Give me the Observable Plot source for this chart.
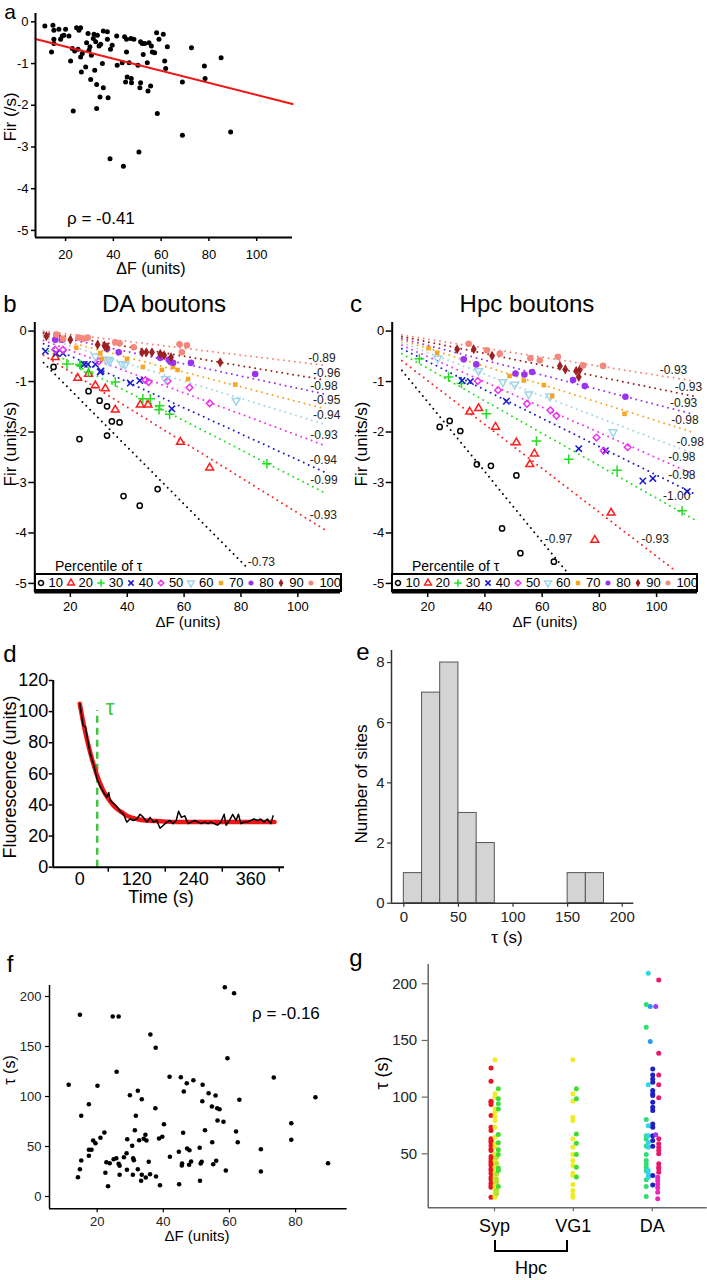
<!DOCTYPE html>
<html><head><meta charset="utf-8">
<script src="https://cdn.jsdelivr.net/npm/d3@7"></script>
<script src="https://cdn.jsdelivr.net/npm/@observablehq/plot@0.6"></script>
<style>
body{margin:0;background:#fff;}
#root{position:relative;width:707px;height:1280px;overflow:hidden;background:#fff;font-family:"Liberation Sans",Arial,sans-serif;}
.t{position:absolute;white-space:nowrap;line-height:1;}
</style></head><body><div id="root"></div>
<script>
// ---------------- DATA ----------------
// Panel a: ΔF (units) vs Fir (/s)
const aPoints = [[11.3,-0.1],[14.1,-0.72],[14.7,-0.08],[15.1,-0.2],[15.1,-0.42],[15.1,-0.52],[17.2,-0.18],[17.9,-0.42],[18.6,-0.34],[20,-0.18],[19.3,-0.32],[21.4,-0.34],[22.1,-0.94],[23.2,-2.14],[22.8,-0.64],[23.8,-0.7],[24.6,-0.14],[25.6,-0.2],[26.3,-0.14],[25.2,-0.66],[26.3,-0.84],[26.6,-1.2],[27,-0.76],[28.4,-1.08],[28.8,-0.5],[29.4,-0.28],[29.8,-0.68],[30.2,-0.6],[30.5,-1.38],[30.8,-0.8],[31.6,-0.4],[31.9,-0.3],[32.2,-1.16],[32.6,-0.48],[33,-1.5],[33,-2.08],[33.3,-0.32],[34,-0.58],[34.4,-1.8],[34.7,-0.54],[35.4,-1.0],[35.8,-1.58],[35.8,-0.22],[37.5,-0.24],[37.5,-0.42],[37.8,-1.82],[38.6,-3.28],[38.8,-0.66],[39.5,-0.56],[41.4,-0.34],[41.6,-1.04],[43.7,-0.98],[44.2,-3.46],[44.7,-0.36],[45.5,-0.42],[45.5,-0.72],[45.1,-1.44],[45.8,-1.32],[46.6,-0.98],[47.3,-0.4],[47.5,-1.36],[47.6,-1.46],[48.6,-0.42],[50.3,-1.04],[50.7,-3.12],[51.1,-1.58],[51.4,-0.48],[51.4,-1.46],[52.1,-0.52],[52.5,-0.78],[53.1,-0.52],[54.2,-0.98],[54.5,-1.66],[54.9,-0.5],[55.6,-1.54],[55.9,-0.58],[56.3,-0.72],[57.3,-0.74],[58.1,-0.26],[58.4,-2.2],[59.1,-0.42],[60.9,-0.3],[61.5,-0.94],[61.9,-1.12],[62.6,-0.6],[68.9,-1.44],[68.9,-2.72],[72.7,-0.62],[78.1,-1.06],[78.4,-1.36],[85.1,-0.86],[89.1,-2.64]];
const aFitX = [7.4, 115];
const aFitY = [-0.41, -1.97];
const aRho = "ρ = -0.41";

// Panels b/c: percentile groups of τ
const pctLabels = [10,20,30,40,50,60,70,80,90,100];
// DA boutons points [ΔF, Fir]
const da10 = [[14.1,-0.71],[23.2,-2.14],[26.4,-1.19],[30.3,-1.38],[32.9,-1.49],[34.6,-1.79],[32.9,-2.07],[37.3,-1.81],[38.7,-3.27],[44.4,-3.46],[50.7,-3.13]];
const da20 = [[14.7,-0.52],[22.6,-0.93],[26.4,-0.85],[28.8,-1.08],[32.3,-1.14],[35.8,-1.56],[44.6,-1.46],[47.3,-1.46],[58.7,-2.2],[69,-2.71]];
const da30 = [[18.8,-0.65],[23.3,-0.66],[23.7,-0.68],[26.4,-0.81],[35.8,-1.01],[45.5,-1.34],[48.1,-1.34],[51.4,-1.48],[51.2,-1.56],[54.9,-1.65],[89.1,-2.63]];
const da40 = [[11.2,-0.4],[15.1,-0.44],[17.4,-0.44],[24.9,-0.66],[26.1,-0.66],[28.8,-0.66],[30.8,-0.79],[30.5,-0.81],[41.1,-1.03],[44.4,-0.98],[55.7,-1.54]];
const da50 = [[14.7,-0.37],[17.4,-0.37],[30,-0.6],[46.4,-0.97],[47.5,-1.01],[54.2,-0.99],[61.9,-1.12],[69,-1.43]];
const da60 = [[28.8,-0.5],[32.7,-0.57],[33.5,-0.57],[33.8,-0.6],[38.2,-0.65],[39.3,-0.66],[53.4,-0.95],[78.3,-1.38]];
const da70 = [[22.1,-0.33],[30.5,-0.44],[31.1,-0.55],[39.9,-0.55],[45.5,-0.71],[52.2,-0.77],[56.1,-0.71],[57.7,-0.77],[61.4,-0.95],[78,-1.06]];
const da80 = [[14.7,-0.17],[17.1,-0.17],[32.9,-0.35],[37,-0.42],[51.6,-0.53],[54.6,-0.57],[55.2,-0.61],[56.1,-0.63],[62.4,-0.63],[85,-0.85]];
const da90 = [[11.6,-0.1],[20,-0.17],[29.6,-0.27],[32,-0.29],[32.9,-0.32],[45.2,-0.42],[46.7,-0.42],[48.7,-0.42],[51.6,-0.45],[53,-0.48],[55.4,-0.52],[72.7,-0.62]];
const da100 = [[15.1,-0.07],[17.4,-0.15],[22.9,-0.13],[24.6,-0.15],[26.1,-0.13],[35.8,-0.22],[37.3,-0.24],[42.3,-0.32],[58.4,-0.26],[61,-0.28],[59.2,-0.42]];
const daLineX1 = [10.6,10.6,10.6,10.6,10.6,10.6,10.6,10.6,10.6,10.6];
const daLineY1 = [-0.63,-0.48,-0.35,-0.25,-0.185,-0.13,-0.09,-0.05,-0.03,0];
const daLineX2 = [81.5,109.6,109.6,109.6,109.6,109.6,109.6,109.6,109.6,109.6];
const daLineY2 = [-4.65,-3.94,-3.21,-2.8,-2.27,-1.85,-1.54,-1.25,-0.97,-0.68];
const daRho = ["-0.73","-0.93","-0.99","-0.94","-0.93","-0.94","-0.95","-0.98","-0.96","-0.89"];
const daRhoX = [82,103.8,104,103.8,104,105,105,104,105,103.3];

// Hpc boutons points [ΔF, Fir]
const hpc10 = [[24.2,-1.9],[27.7,-1.78],[31.4,-1.98],[37.2,-2.64],[42.1,-2.67],[51,-2.86],[46,-3.91],[52.4,-4.4],[64.1,-4.57]];
const hpc20 = [[34.7,-1.6],[37.8,-1.53],[43.7,-1.9],[51,-2.21],[55.7,-2.64],[57.3,-2.43],[78.4,-4.14],[84.1,-3.6]];
const hpc30 = [[17.1,-0.55],[27.3,-0.91],[31.8,-1.04],[40.5,-1.64],[58,-2.18],[69.3,-2.54],[86.2,-2.76],[108.9,-3.56]];
const hpc40 = [[32,-0.98],[34.9,-1.0],[47.5,-1.39],[72.8,-2.33],[82.1,-2.37],[95.2,-2.97],[98.7,-2.92],[110.7,-3.18]];
const hpc50 = [[37.5,-0.99],[44.6,-1.17],[54.7,-1.44],[62.9,-1.57],[65,-1.68],[79,-2.11],[81.5,-2.37],[89.9,-2.3]];
const hpc60 = [[23.5,-0.54],[37.8,-0.79],[46.3,-1.01],[50.4,-1.06],[55.3,-1.25],[62.7,-1.29],[84.8,-2.0]];
const hpc70 = [[20.3,-0.34],[23.3,-0.43],[48.6,-0.89],[53.6,-0.98],[60.6,-1.07],[63.5,-1.29],[88.8,-1.64]];
const hpc80 = [[32.6,-0.56],[37,-0.66],[50.7,-0.84],[53.8,-0.86],[56.5,-0.81],[70.8,-0.97],[74.9,-1.09],[89.1,-1.3]];
const hpc90 = [[30.3,-0.36],[36.1,-0.36],[42.5,-0.49],[66.2,-0.69],[68.1,-0.76],[71.9,-0.79],[72.8,-0.91],[73.2,-0.76]];
const hpc100 = [[34.3,-0.25],[40.7,-0.38],[45.2,-0.45],[55.9,-0.54],[59.2,-0.58],[65.5,-0.51],[74.3,-0.68],[81.3,-0.69]];
const hpcLineX1 = [11,11,11,11,11,11,11,11,11,11];
const hpcLineY1 = [-0.78,-0.59,-0.45,-0.35,-0.28,-0.23,-0.18,-0.15,-0.11,-0.08];
const hpcLineX2 = [69.3,106.6,113,113,113,113,113,113,113,113];
const hpcLineY2 = [-4.82,-4.75,-3.73,-3.22,-2.84,-2.43,-2.01,-1.65,-1.29,-0.99];
const hpcRho = ["-0.97","-0.93","-1.00","-0.98","-0.98","-0.98","-0.98","-0.93","-0.93","-0.93"];
const hpcRhoX = [60.6,94.4,101.9,103.7,103.7,106.6,104.8,104.3,106,100.8];

// Panel d: fluorescence trace
const dTime = [0,7,12,17,22,29,36,43,50,57,61,64,71,78,85,92,99,106,113,120,127,134,141,148,155,162,169,176,183,190,196,203,208,214,221,228,235,242,249,256,262,270,276,283,290,297,304,308,315,322,329,334,339,346,353,360,367,374,381,388,395,402,407];
const dTrace = [105,91,90,81,73,66,57,52,48,45,48,43,41,39,36,34,29,31,30,31,34,32,29,32,29,30,25,27,29,30,28,30,36,32,33,28,29,30,29,28,29,28,29,28,27,29,34,27,30,34,30,34,28,29,29,30,31,30,31,29,31,28,33];
const dFitTime = [0,10,20,30,40,50,60,70,80,90,100,120,140,170,200,250,300,350,410];
const dFitValue = [105,89,76,65,56,49,44,40,37,35,33,31,30,29.5,29,29,29,29,29];
const dTau = 36.6;
const dTauTop = 100.7;

// Panel e: histogram of τ
const eBinStart = [0,16.7,33.3,50,66.7,150,166.7];
const eBinEnd = [16.7,33.3,50,66.7,83.3,166.7,183.3];
const eCount = [1,7,8,3,2,1,1];

// Panel f: ΔF vs τ
const fPoints = [[11.4,111.7],[14.2,19.3],[14.8,181.7],[14.8,27.3],[15.2,80.7],[15.2,36],[17.5,92.3],[17.5,40.7],[17.5,46.7],[18.3,46.7],[18.8,56],[19.5,53.3],[20.1,110.7],[21,58.7],[22.2,64],[22.5,23.7],[22.8,34.3],[23.3,10.3],[23.8,33.3],[24.7,180],[25,37.3],[25.8,38.3],[26.5,180],[25.9,124.7],[26.5,32.7],[26.8,21.7],[26.8,30.7],[28.1,39.3],[29,26.7],[29.1,57.3],[28.9,43.3],[29.9,101.3],[30.6,50.7],[30.8,21.7],[30.9,38.3],[31.1,36.3],[31.4,66.3],[31.7,80.7],[32.3,105.7],[32.3,27.3],[32.7,56.3],[33.3,15.7],[33.5,97.3],[33.5,21.7],[34.1,57.7],[34.6,61.7],[34.7,19],[34.9,56],[35.6,34.7],[36,22.3],[36.1,162],[37.6,88.3],[37.7,148.7],[37.8,20],[38.7,58],[39,11.3],[39.7,59.7],[40.2,72.3],[41.9,119.7],[42,39.7],[44.7,44.7],[44.8,12.3],[45.3,119.3],[45.6,31],[45.7,33],[46,63.7],[46.2,105],[47.1,113.3],[47.2,48],[47.9,46.3],[47.8,31.7],[48.4,35],[49.1,116.3],[51,48.7],[51.1,15.7],[51.3,33],[51.6,34.7],[51.9,111.7],[51.8,95.3],[52.6,66.3],[53.7,103.3],[54.8,54.3],[54.7,90],[55.1,32.3],[55.8,101],[56,35.7],[56.4,76],[56.3,88.3],[57,87.3],[58.2,74.7],[58.6,209.3],[58.9,26],[59.4,138.3],[61.4,203.3],[62,65],[62.5,54.3],[63,96.7],[69.5,47.3],[69.5,25],[73.4,119],[78.7,73.3],[78.7,56.7],[86,99.3],[89.8,33.3]];
const fRho = "ρ = -0.16";

// Panel g: τ by bouton type (sub-groups per imaging session)
const gCats = ["Syp","VG1","DA"];
const gSypRed = [125.8,114,96.4,95.5,93.5,83.8,73.4,70.5,63.2,61.7,60.3,57.3,54.4,52.9,47.6,45.6,43.5,41.2,39.7,36.8,35.3,32.9,29.4,27.1,24.1,22.1,20.6,11.8];
const gSypYellow = [132.9,102.9,100,89.6,86.7,82.9,79.4,73.4,64.6,58.8,55.8,50,44.1,38.2,33.8,29.4,26.5,22.1,19.2,16.2,13.2,11.8];
const gSypLime = [47,41.7,32.3,27.9,24.9,17.6,14.7];
const gSypGreen = [107.3,98.5,94.1,89.6,67,59.7,53.5,49.4,37.6,35.3,21.2];
const gVg1Yellow = [132.9,102.9,96.4,82.3,79.4,63.2,55.8,49.4,44.1,39.7,32.9,30.9,22.9,17.6,13.8,11.8];
const gVg1Green = [107.3,98.5,67.6,59.4,49.4,38.2,29.6];
const gDaGreen = [181.7,161.6,80.2,66,63,57,49.4,44.1,41,38.2,35,27.1,21.2,12.4];
const gDaCyan = [209.3,111,74.7,65.9,60,55.8,35.3,32.3,29.4];
const gDaAzure = [180,149];
const gDaBlue = [124.9,119.6,116.1,113.2,105.8,102.9,101.4,95.5,91.1,88.2,76.4,73.4,66,61.7,56.7,30.9,22.6];
const gDaPink = [203.4,138.8,119.6,111,99.4,63.2,58.8,55.8,52.9,50,41.2,38.2,36.8,33.8];
const gDaMagenta = [29.4,26.5,23.5,20,16.2,10.3];
const gDaPurple = [180,66.9];

// ---------------- STYLES ----------------
const FONT = '"Liberation Sans", Arial, sans-serif';
const triangleDown = {draw(ctx, size){ const y = -Math.sqrt(size/(Math.sqrt(3)*3)); ctx.moveTo(0,-y*2); ctx.lineTo(-Math.sqrt(3)*y, y); ctx.lineTo(Math.sqrt(3)*y, y); ctx.closePath(); }};
const PCT_COLORS = ["#000000","#ff1e1e","#22dd22","#1a1acc","#ee33ee","#a4d4e8","#f7a523","#9a33ee","#9b2222","#f4887c"];
const PCT_SYMBOLS = [d3.symbolCircle, d3.symbolTriangle, d3.symbolPlus, d3.symbolTimes, d3.symbolDiamond2, triangleDown, d3.symbolSquare, d3.symbolCircle, d3.symbolDiamond, d3.symbolCircle];
const PCT_FILLED = [false,false,false,false,false,false,true,true,true,true];
const PCT_R = [2.6,2.9,3.2,3.0,3.0,2.9,2.6,3.3,3.1,3.3];

// ---------------- HELPERS ----------------
const root = document.getElementById("root");
function place(el, left, top){ el.style.position="absolute"; el.style.left=left+"px"; el.style.top=top+"px"; root.appendChild(el); return el; }
function plot(o, left, top){
  const svg = Plot.plot({...o, style:{fontFamily:FONT, background:"transparent", overflow:"visible", color:"#000"}});
  return place(svg, left, top);
}
function T(s, x, y, o={}){
  const size = o.size || 14, anchor = o.anchor || "middle";
  const d = document.createElement("div"); d.className="t"; d.textContent=s;
  d.style.fontSize=size+"px"; d.style.color=o.color||"#000"; d.style.fontFamily=o.family||FONT;
  d.style.left=x+"px";
  if (o.rot){ d.style.top=y+"px"; d.style.transform=`translate(-50%,-50%) rotate(${o.rot}deg)`; }
  else { d.style.top=(y-0.85*size)+"px"; const tx = anchor==="middle"?"-50%":anchor==="end"?"-100%":"0"; d.style.transform=`translateX(${tx})`; }
  root.appendChild(d); return d;
}
function box(left, top, w, h, css){ const d=document.createElement("div"); d.style.cssText=`position:absolute;left:${left}px;top:${top}px;width:${w}px;height:${h}px;${css||""}`; root.appendChild(d); return d; }
const fmt = d => String(d);

function pctPanel(series, x1, y1, x2, y2, rho, rhoX, xDomain, yDomain, margins, left, top, width){
  const marks = [];
  marks.push(Plot.axisY({ticks:[0,-1,-2,-3,-4,-5], tickSize:6, tickPadding:2, fontSize:13, tickFormat:fmt, label:null, strokeWidth:1.5}));
  marks.push(Plot.axisX({ticks:[20,40,60,80,100], tickSize:5, tickPadding:4, fontSize:13, label:null, strokeWidth:1.5}));
  pctLabels.forEach((p,i)=>{
    marks.push(Plot.link([i], {x1:j=>x1[j], y1:j=>y1[j], x2:j=>x2[j], y2:j=>y2[j], stroke:PCT_COLORS[i], strokeWidth:2, strokeDasharray:"0,5.5", strokeLinecap:"round"}));
  });
  const lab = pctLabels.map((p,i)=>{ const f=(rhoX[i]-x1[i])/(x2[i]-x1[i]); return {x:rhoX[i], y:y1[i]+f*(y2[i]-y1[i]), t:rho[i]}; });
  marks.push(Plot.text(lab, {x:"x", y:"y", text:"t", textAnchor:"start", dy:-5, dx:1, fontSize:12, fill:"#222"}));
  series.forEach((pts,i)=>{
    const filled = PCT_FILLED[i];
    marks.push(Plot.dot(pts, {x:d=>d[0], y:d=>d[1], symbol:PCT_SYMBOLS[i], r:PCT_R[i], fill: filled?PCT_COLORS[i]:"none", stroke: filled?"none":PCT_COLORS[i], strokeWidth:1.5}));
  });
  marks.push(Plot.ruleX([xDomain[0]], {strokeWidth:2}));
  marks.push(Plot.ruleY([yDomain[0]], {strokeWidth:2}));
  plot({width, height:330, ...margins, x:{domain:xDomain}, y:{domain:yDomain}, marks}, left, top);
}

function legend(left, top, width){
  const b = box(left, top, width, 19, "border:2px solid #000;border-bottom-width:3px;background:#fff;box-sizing:border-box;");
  pctLabels.forEach((p,i)=>{
    const cx = 6.5 + i*30.1 - 2;
    const svg = d3.create("svg").attr("width",12).attr("height",12).style("position","absolute").style("left",(cx-6)+"px").style("top",(7.5-6)+"px").style("overflow","visible");
    const filled = PCT_FILLED[i];
    svg.append("path").attr("transform","translate(6,6)").attr("d", d3.symbol(PCT_SYMBOLS[i], 20)()).attr("fill", filled?PCT_COLORS[i]:"none").attr("stroke", filled?"none":PCT_COLORS[i]).attr("stroke-width",1.5);
    b.appendChild(svg.node());
    const t = document.createElement("div"); t.textContent = p;
    t.style.cssText = `position:absolute;left:${cx+8}px;top:1px;font-size:13px;line-height:13px;font-family:${FONT};white-space:nowrap;`;
    b.appendChild(t);
  });
}

// ---------------- PANEL a ----------------
plot({width:300, height:290, marginLeft:35, marginRight:8, marginTop:13, marginBottom:53,
  x:{domain:[7.4,115]}, y:{domain:[-5.17,0.2]},
  marks:[
    Plot.axisY({ticks:[0,-1,-2,-3,-4,-5], tickSize:4, tickPadding:3, fontSize:13, tickFormat:fmt, label:null, strokeWidth:1.5}),
    Plot.axisX({ticks:[20,40,60,80,100], tickSize:4, tickPadding:8, fontSize:13, label:null, strokeWidth:1.5}),
    Plot.dot(aPoints, {x:d=>d[0], y:d=>d[1], r:2.5, fill:"#000"}),
    Plot.line(aFitX.map((x,i)=>[x,aFitY[i]]), {x:d=>d[0], y:d=>d[1], stroke:"#f01414", strokeWidth:2}),
    Plot.ruleX([7.4], {strokeWidth:2}), Plot.ruleY([-5.17], {strokeWidth:2})
  ]}, 0, 0);
T("a", 10, 18.5, {size:21});
T("Fir (/s)", 10, 117, {size:17, rot:-90});
T("ΔF (units)", 151, 275, {size:16});
T(aRho, 67, 224, {size:17, anchor:"start"});

// ---------------- PANEL b ----------------
pctPanel([da10,da20,da30,da40,da50,da60,da70,da80,da90,da100], daLineX1, daLineY1, daLineX2, daLineY2, daRho, daRhoX,
  [7.5,115], [-5.18,0.17], {marginLeft:34.3, marginRight:10, marginTop:22, marginBottom:38}, 0, 300, 350);
legend(34, 573, 308);
T("b", 10, 312, {size:24});
T("DA boutons", 164, 312, {size:24});
T("Fir (units/s)", 10, 444, {size:17, rot:-90});
T("Percentile of τ", 55, 571, {size:14, anchor:"start"});
T("ΔF (units)", 188, 627, {size:15});

// ---------------- PANEL c ----------------
pctPanel([hpc10,hpc20,hpc30,hpc40,hpc50,hpc60,hpc70,hpc80,hpc90,hpc100], hpcLineX1, hpcLineY1, hpcLineX2, hpcLineY2, hpcRho, hpcRhoX,
  [7.6,114.3], [-5.18,0.17], {marginLeft:41.7, marginRight:10, marginTop:22, marginBottom:38}, 350, 300, 357);
legend(391, 573, 307);
T("c", 356, 312, {size:24});
T("Hpc boutons", 527, 312, {size:24});
T("Fir (units/s)", 361, 444, {size:17, rot:-90});
T("Percentile of τ", 412, 571, {size:14, anchor:"start"});
T("ΔF (units)", 545, 627, {size:15});

// ---------------- PANEL d ----------------
plot({width:300, height:280, marginLeft:52.7, marginRight:16, marginTop:40, marginBottom:53.3,
  x:{domain:[-56,431]}, y:{domain:[0,120]},
  marks:[
    Plot.axisY({ticks:[0,20,40,60,80,100,120], tickSize:4, tickPadding:1, fontSize:18, label:null, strokeWidth:1.5}),
    Plot.axisX({ticks:[0,120,240,360], tickSize:0, tickPadding:5, fontSize:18, label:null}),
    Plot.axisX({ticks:[60,180,300,420], tickSize:5, tickFormat:()=>"", label:null, strokeWidth:1.5}),
    Plot.ruleX([dTau], {y1:0, y2:dTauTop, stroke:"#3fc63f", strokeWidth:2.5, strokeDasharray:"7,5"}),
    Plot.line(dFitTime.map((t,i)=>[t,dFitValue[i]]), {x:d=>d[0], y:d=>d[1], stroke:"#f01414", strokeWidth:4.5, curve:"monotone-x"}),
    Plot.line(dTime.map((t,i)=>[t,dTrace[i]]), {x:d=>d[0], y:d=>d[1], stroke:"#000", strokeWidth:1.5}),
    Plot.ruleX([-56], {strokeWidth:2}), Plot.ruleY([0], {strokeWidth:2})
  ]}, 0, 640);
T("d", 10, 662, {size:24});
T("Fluorescence (units)", 10, 777, {size:18, rot:-90});
T("τ", 110, 716, {size:22, color:"#3fc63f"});
T("Time (s)", 161, 903, {size:18});

// ---------------- PANEL e ----------------
plot({width:357, height:320, marginLeft:41, marginRight:73.7, marginTop:10, marginBottom:57.3,
  x:{domain:[-11.3,210.6]}, y:{domain:[0,8.4]},
  marks:[
    Plot.axisY({ticks:[0,2,4,6,8], tickSize:4, tickPadding:3, fontSize:15, label:null, fill:"#222", stroke:"#333", strokeWidth:1.2}),
    Plot.axisX({ticks:[0,50,100,150,200], tickSize:4, tickPadding:4, fontSize:15, label:null, fill:"#222", stroke:"#333", strokeWidth:1.2}),
    Plot.rectY(eCount.map((c,i)=>({x1:eBinStart[i], x2:eBinEnd[i], y:c})), {x1:"x1", x2:"x2", y:"y", fill:"#d4d4d4", stroke:"#555", strokeWidth:1, inset:0}),
    Plot.ruleX([-11.3], {stroke:"#333", strokeWidth:1.5}), Plot.ruleY([0], {stroke:"#333", strokeWidth:1.5})
  ]}, 350, 640);
T("e", 363, 660, {size:24});
T("Number of sites", 361, 784, {size:17, rot:-90});
T("τ (s)", 507, 943, {size:17});

// ---------------- PANEL f ----------------
plot({width:357, height:320, marginLeft:49, marginRight:10.3, marginTop:25, marginBottom:71.7,
  x:{domain:[5.6,95.6]}, y:{domain:[-12.3,211]},
  marks:[
    Plot.axisY({ticks:[0,50,100,150,200], tickSize:4, tickPadding:4, fontSize:13, label:null, fill:"#222", strokeWidth:1.2}),
    Plot.axisX({ticks:[20,40,60,80], tickSize:4, tickPadding:4, fontSize:13, label:null, fill:"#222", strokeWidth:1.2}),
    Plot.dot(fPoints, {x:d=>d[0], y:d=>d[1], r:2.3, fill:"#000"}),
    Plot.ruleX([5.6], {strokeWidth:1.5}), Plot.ruleY([-12.3], {strokeWidth:1.5})
  ]}, 0, 960);
T("f", 10, 972, {size:24});
T("τ (s)", 10, 1070, {size:16, rot:-90});
T("ΔF (units)", 197, 1241, {size:15});
T(fRho, 252, 1019, {size:17, anchor:"start"});

// ---------------- PANEL g ----------------
const gGroups = [
  [gSypRed, 0, -3.5, "#e8141e"], [gSypYellow, 0, 0.5, "#eeec26"], [gSypLime, 0, 2, "#b4e22c"], [gSypGreen, 0, 3.8, "#40dc34"],
  [gVg1Yellow, 1, -0.5, "#eeec26"], [gVg1Green, 1, 3, "#40dc34"],
  [gDaGreen, 2, -6, "#30de74"], [gDaCyan, 2, -4, "#30d6e6"], [gDaAzure, 2, -2, "#2a9cf0"], [gDaBlue, 2, 0.5, "#1e20c4"],
  [gDaPink, 2, 6.5, "#e8186c"], [gDaMagenta, 2, 5.5, "#e62ab8"], [gDaPurple, 2, 3.5, "#a436f0"]
];
plot({width:357, height:325, marginLeft:77.7, marginRight:0.3, marginTop:9, marginBottom:72.7,
  x:{domain:[-0.841,2.697]}, y:{domain:[2.4,217]},
  marks:[
    Plot.axisY({ticks:[50,100,150,200], tickSize:6, tickPadding:5, fontSize:15, label:null, fill:"#222", stroke:"#666", strokeWidth:1.2}),
    Plot.axisX({ticks:[0,1,2], tickFormat:i=>gCats[i], tickSize:4, tickPadding:7, fontSize:18, label:null, stroke:"#666", strokeWidth:1.2}),
    ...gGroups.map(([vals, c, dx, col]) => Plot.dot(vals, {x:()=>c, y:d=>d, dx, r:2.5, fill:col})),
    Plot.ruleX([-0.841], {stroke:"#666", strokeWidth:1.5}), Plot.ruleY([2.4], {stroke:"#666", strokeWidth:1.5})
  ]}, 350, 955);
T("g", 356, 966, {size:24});
T("τ (s)", 382, 1073, {size:18, rot:-90});
T("Hpc", 531, 1274, {size:18});
box(494, 1250, 74.3, 2, "background:#000;");
box(494, 1240, 2, 12, "background:#000;");
box(566.3, 1240, 2, 12, "background:#000;");
</script></body></html>
